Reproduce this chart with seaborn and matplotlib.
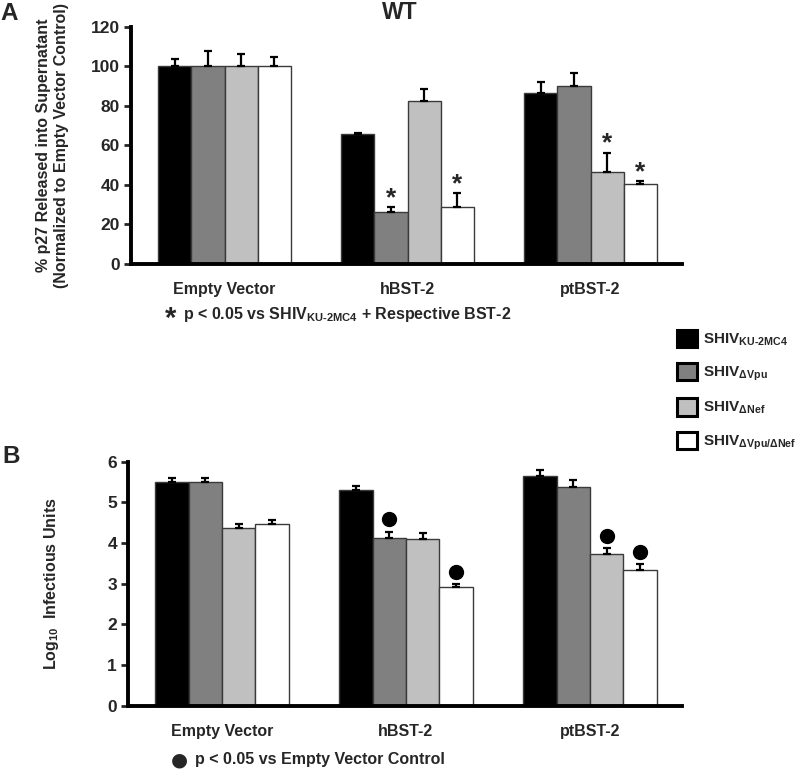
import numpy as np
import pandas as pd
import matplotlib
matplotlib.use("Agg")
import matplotlib.pyplot as plt
import matplotlib.patches as mpatches
import seaborn as sns

sns.set_style("ticks")
plt.rcParams["font.family"] = ["Liberation Sans", "DejaVu Sans"]
plt.rcParams["font.weight"] = "bold"
plt.rcParams["mathtext.fontset"] = "custom"
plt.rcParams["mathtext.rm"] = "Liberation Sans:bold"
plt.rcParams["mathtext.bf"] = "Liberation Sans:bold"
plt.rcParams["mathtext.it"] = "Liberation Sans:bold"
plt.rcParams["mathtext.sf"] = "Liberation Sans:bold"

constructs = ["Empty Vector", "hBST-2", "ptBST-2"]
viruses = ["KU-2MC4", "dVpu", "dNef", "dVpu/dNef"]
virus_labels = [r"SHIV$_{\mathrm{KU\text{-}2MC4}}$", r"SHIV$_{\mathrm{ΔVpu}}$",
                r"SHIV$_{\mathrm{ΔNef}}$", r"SHIV$_{\mathrm{ΔVpu/ΔNef}}$"]
colors = ["#000000", "#808080", "#c0c0c0", "#ffffff"]

# panel A: % p27 released (rows = construct, cols = virus)
p27 = [[100, 100, 100, 100],
       [66, 26.3, 82.5, 28.7],
       [86.6, 90, 46.6, 40.3]]
p27_err = [[4, 8, 6.5, 5],
           [0.4, 2.7, 6, 7],
           [5.4, 6.5, 9.8, 1.7]]
p27_sig = [[0, 0, 0, 0],
           [0, 1, 0, 1],
           [0, 0, 1, 1]]

# panel B: log10 infectious units
inf = [[5.49, 5.51, 4.37, 4.47],
       [5.30, 4.13, 4.09, 2.93],
       [5.66, 5.37, 3.72, 3.33]]
inf_err = [[0.11, 0.10, 0.11, 0.10],
           [0.11, 0.15, 0.16, 0.06],
           [0.14, 0.19, 0.16, 0.16]]
inf_sig = [[0, 0, 0, 0],
           [0, 1, 0, 1],
           [0, 0, 1, 1]]


def long_df(vals):
    rows = []
    for i, c in enumerate(constructs):
        for j, v in enumerate(viruses):
            rows.append({"construct": c, "virus": v, "value": vals[i][j]})
    return pd.DataFrame(rows)


def draw(ax, vals, errs, sig, ymax, step, mark, mark_off):
    df = long_df(vals)
    sns.barplot(data=df, x="construct", y="value", hue="virus",
                hue_order=viruses, palette=colors, width=0.725,
                edgecolor="#3a3a3a", linewidth=1, errorbar=None,
                legend=False, ax=ax)
    bar_sets = list(ax.containers)
    for j, cont in enumerate(bar_sets):
        for i, bar in enumerate(cont):
            xc = bar.get_x() + bar.get_width() / 2
            h = vals[i][j]
            e = errs[i][j]
            ax.errorbar(xc, h, yerr=[[0], [e]], fmt="none", ecolor="black",
                        elinewidth=1.6, capsize=3.2, capthick=1.6, zorder=1)
            if sig[i][j]:
                if mark == "*":
                    ax.text(xc, h + e + mark_off, "*", ha="center",
                            va="center", fontsize=19, fontweight="bold")
                else:
                    ax.plot(xc, h + e + mark_off, "o", color="black",
                            markersize=10)
    ax.set_ylim(0, ymax)
    ax.set_yticks(np.arange(0, ymax + step / 2, step))
    ax.set_xlim(-0.51, 2.5)
    sns.despine(ax=ax)
    for s in ["left", "bottom"]:
        ax.spines[s].set_linewidth(2.8)
        ax.spines[s].set_color("black")
    ax.tick_params(axis="y", length=5, width=2, labelsize=12.5, pad=3)
    ax.tick_params(axis="x", length=0, labelsize=11.5, pad=13)
    for lab in ax.get_yticklabels() + ax.get_xticklabels():
        lab.set_fontweight("bold")
    ax.set_xlabel("")


fig = plt.figure(figsize=(8, 7.69), dpi=100)
axA = fig.add_axes([0.164, 0.6567, 0.6885, 0.3082])
axB = fig.add_axes([0.160, 0.0823, 0.6925, 0.3173])

draw(axA, p27, p27_err, p27_sig, 120, 20, "*", 4.5)
draw(axB, inf, inf_err, inf_sig, 6, 1, "o", 0.3)

axA.set_ylabel("% p27 Released into Supernatant\n(Normalized to Empty Vector Control)",
               fontsize=11.5, fontweight="bold", labelpad=16)
axB.set_ylabel(r"Log$_{10}$  Infectious Units", fontsize=11.5,
               fontweight="bold", labelpad=33)

fig.text(0.0, 0.997, "A", fontsize=17.5, fontweight="bold", va="top")
fig.text(0.5, 0.999, "WT", fontsize=16.5, fontweight="bold", va="top", ha="center")
fig.text(0.003, 0.421, "B", fontsize=17.5, fontweight="bold", va="top")

fig.text(0.206, 0.585, "*", fontsize=21, fontweight="bold", va="center")
fig.text(0.229, 0.591, r"p < 0.05 vs SHIV$_{\mathrm{KU\text{-}2MC4}}$ + Respective BST-2",
         fontsize=11.5, fontweight="bold", va="center")

fig.text(0.224, 0.0115, "●", fontsize=14, va="center", ha="center",
         family="DejaVu Sans")
fig.text(0.244, 0.0125, "p < 0.05 vs Empty Vector Control",
         fontsize=11.5, fontweight="bold", va="center")

handles = [mpatches.Patch(facecolor=c, edgecolor="black", linewidth=2.2)
           for c in colors]
fig.legend(handles, virus_labels, loc="upper left",
           bbox_to_anchor=(0.833, 1 - 319 / 769), frameon=False,
           handlelength=1.3, handleheight=1.35, labelspacing=1.0,
           handletextpad=0.4, borderaxespad=0.3,
           prop={"size": 11, "weight": "bold"})

fig.savefig("out.png", dpi=100)
